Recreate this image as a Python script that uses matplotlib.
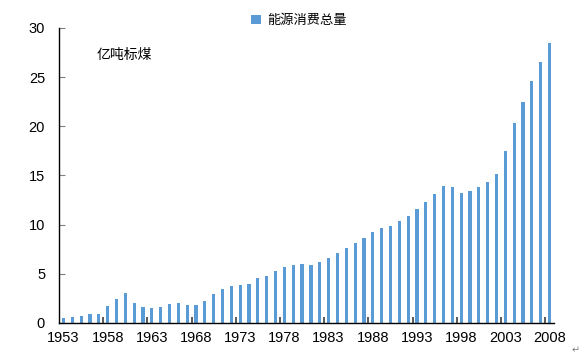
import matplotlib
matplotlib.use('Agg')
import matplotlib.pyplot as plt

plt.rcParams['font.family'] = ['Liberation Sans', 'Noto Sans CJK SC', 'DejaVu Sans']

# China total energy consumption, 100 million tonnes of coal equivalent
years = list(range(1953, 2009))
consumption = [0.54, 0.62, 0.70, 0.88, 0.96, 1.76, 2.39, 3.02, 2.04, 1.65,
               1.56, 1.66, 1.89, 2.03, 1.83, 1.84, 2.27, 2.93, 3.45, 3.73,
               3.91, 4.01, 4.54, 4.78, 5.24, 5.71, 5.86, 6.03, 5.94, 6.21,
               6.60, 7.09, 7.67, 8.09, 8.66, 9.30, 9.69, 9.87, 10.38, 10.92,
               11.60, 12.27, 13.12, 13.89, 13.78, 13.22, 13.38, 13.86, 14.32, 15.18,
               17.50, 20.32, 22.47, 24.63, 26.56, 28.50]
series_name = '能源消费总量'
unit_label = '亿吨标煤'
label_years = years[::5]

fig = plt.figure(figsize=(5.86, 3.63), dpi=100)
ax = fig.add_axes([0.1007, 0.1102, 0.8447, 0.8127])

ax.bar(years, consumption, width=0.36, color='#5b9bd5', label=series_name)

ax.set_xlim(years[0] - 0.5, years[-1] + 0.5)
ax.set_ylim(0, 30)
ax.set_yticks(range(0, 31, 5))
ax.set_xticks(label_years)
ax.set_xticklabels([str(y) for y in label_years])
# tick marks sit on category boundaries, labels on categories
ax.set_xticks([y + 4.5 for y in label_years if y + 4.5 < years[-1]], minor=True)

for s in ['top', 'right']:
    ax.spines[s].set_visible(False)
ax.spines['left'].set_linewidth(1.0)
ax.spines['bottom'].set_linewidth(1.0)

ax.tick_params(axis='y', direction='in', length=4, color='#808080', labelsize=10.5, pad=10)
ax.tick_params(axis='x', which='major', length=0, labelsize=10.5, pad=6)
ax.tick_params(axis='x', which='minor', direction='in', length=4, width=1.2, color='#404040')

ax.text(0.075, 0.91, unit_label, transform=ax.transAxes, fontsize=10,
        ha='left', va='center')

ax.legend(loc='upper center', bbox_to_anchor=(0.485, 1.085), frameon=False,
          fontsize=9.5, handlelength=0.7, handleheight=0.7, handletextpad=0.5)

fig.text(0.982, 0.035, '↵', fontsize=7, color='#808080', family='DejaVu Sans',
         ha='center', va='center')

fig.savefig('out.png', dpi=100)
